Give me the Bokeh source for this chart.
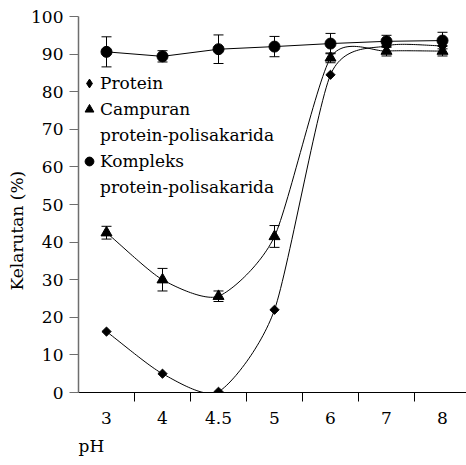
import numpy as np
from bokeh.plotting import figure
from bokeh.models import (Range1d, FixedTicker, Whisker, TeeHead, ColumnDataSource,
                          Legend, LegendItem, Title)
from bokeh.embed import file_html
from bokeh.resources import INLINE

# ---- data ----
ph_labels = ["3", "4", "4.5", "5", "6", "7", "8"]
protein = [16.2, 5.0, 0.2, 22.0, 84.5, 92.2, 92.2]
campuran = [42.5, 30.0, 25.6, 41.5, 89.0, 90.8, 90.8]
campuran_err = [1.7, 3.0, 1.4, 2.9, 1.3, 1.3, 1.3]
kompleks = [90.6, 89.4, 91.3, 92.0, 92.8, 93.4, 93.6]
kompleks_err = [4.0, 1.5, 3.8, 2.7, 2.7, 1.6, 2.2]
y_ticks = [0, 10, 20, 30, 40, 50, 60, 70, 80, 90, 100]

FONT = "DejaVu Serif"
FS = "17px"
xs = np.arange(1, len(ph_labels) + 1, dtype=float)


def smooth(x, y, k=0.7, n=30):
    x = np.asarray(x, float)
    y = np.asarray(y, float)
    m = len(x)
    tx = np.zeros(m)
    ty = np.zeros(m)
    tx[1:-1] = (x[2:] - x[:-2]) / 2
    ty[1:-1] = (y[2:] - y[:-2]) / 2
    tx[0], ty[0] = x[1] - x[0], y[1] - y[0]
    tx[-1], ty[-1] = x[-1] - x[-2], y[-1] - y[-2]
    tx *= k
    ty *= k
    ox, oy = [], []
    for i in range(m - 1):
        t = np.linspace(0, 1, n, endpoint=(i == m - 2))
        h00 = 2 * t**3 - 3 * t**2 + 1
        h10 = t**3 - 2 * t**2 + t
        h01 = -2 * t**3 + 3 * t**2
        h11 = t**3 - t**2
        ox.extend(h00 * x[i] + h10 * tx[i] + h01 * x[i + 1] + h11 * tx[i + 1])
        oy.extend(h00 * y[i] + h10 * ty[i] + h01 * y[i + 1] + h11 * ty[i + 1])
    return ox, oy


W, H = 466, 465
L, T, B = 78, 16, 73
p = figure(width=W, height=H, output_backend="svg", toolbar_location=None,
           x_range=Range1d(0.5, 0.5 + (W - L) / 56.0), y_range=Range1d(0, 100),
           min_border_left=L, min_border_right=0, min_border_top=T, min_border_bottom=B)
p.outline_line_color = None
p.grid.visible = False
p.background_fill_color = "white"
p.border_fill_color = "white"

# x axis
p.xaxis.ticker = FixedTicker(ticks=list(xs), minor_ticks=list(xs[:-1] + 0.5))
p.xaxis.major_label_overrides = {float(v): lab for v, lab in zip(xs, ph_labels)}
p.xaxis.major_tick_line_color = None
p.xaxis.major_tick_out = 9
p.xaxis.major_tick_in = 0
p.xaxis.minor_tick_line_color = "black"
p.xaxis.minor_tick_out = 9
p.xaxis.minor_tick_in = 0
p.xaxis.axis_line_color = "black"
p.xaxis.major_label_standoff = 10

# y axis
p.yaxis.ticker = FixedTicker(ticks=y_ticks)
p.yaxis.major_tick_out = 9
p.yaxis.major_tick_in = 0
p.yaxis.minor_tick_line_color = None
p.yaxis.axis_line_color = "#6e6e6e"
p.yaxis.axis_line_width = 1.5
p.yaxis.major_tick_line_color = "#6e6e6e"
p.yaxis.major_label_standoff = 6

for ax in (p.xaxis, p.yaxis):
    ax.major_label_text_font = FONT
    ax.major_label_text_font_size = FS
    ax.major_label_text_color = "black"

# axis titles
p.add_layout(Title(text="pH", align="left", offset=0, standoff=14, text_font=FONT,
                   text_font_size=FS, text_font_style="normal", text_color="black"),
             "below")
p.add_layout(Title(text="Kelarutan (%)", align="left", offset=102, standoff=4,
                   text_font=FONT, text_font_size=FS,
                   text_font_style="normal", text_color="black"), "left")

# lines
for vals in (protein, campuran):
    lx, ly = smooth(xs, vals)
    p.line(lx, ly, line_color="black", line_width=1)
p.line(xs, kompleks, line_color="black", line_width=1)

# error bars
for vals, err in ((campuran, campuran_err), (kompleks, kompleks_err)):
    src = ColumnDataSource(dict(x=xs, u=np.array(vals) + np.array(err),
                                l=np.array(vals) - np.array(err)))
    p.add_layout(Whisker(base="x", upper="u", lower="l", source=src, line_color="black",
                         line_width=1,
                         upper_head=TeeHead(size=10, line_color="black", line_width=1),
                         lower_head=TeeHead(size=10, line_color="black", line_width=1)))

# markers
p.scatter(xs, protein, marker="square", angle=np.pi / 4, size=6.5, color="black")
p.scatter(xs, campuran, marker="triangle", size=11, color="black")
p.scatter(xs, kompleks, marker="circle", size=11, color="black")

# legend (dedicated renderers, one hidden NaN point each)
nan = [np.nan]
lg_p = p.scatter(x=nan, y=nan, marker="diamond", size=10, color="black")
lg_c = p.scatter(x=nan, y=nan, marker="triangle", size=11, color="black")
lg_k = p.scatter(x=nan, y=nan, marker="circle", size=11, color="black")
lg_b1 = p.scatter(x=nan, y=nan, marker="circle", size=1, fill_alpha=0, line_alpha=0)
lg_b2 = p.scatter(x=nan, y=nan, marker="circle", size=1, fill_alpha=0, line_alpha=0)
legend = Legend(items=[
    LegendItem(label="Protein", renderers=[lg_p]),
    LegendItem(label="Campuran", renderers=[lg_c]),
    LegendItem(label="protein-polisakarida", renderers=[lg_b1]),
    LegendItem(label="Kompleks", renderers=[lg_k]),
    LegendItem(label="protein-polisakarida", renderers=[lg_b2]),
], location=(0, 192))
legend.glyph_width = 22
legend.glyph_height = 26
legend.label_height = 20
legend.spacing = 0
legend.padding = 0
legend.margin = 0
legend.label_standoff = 0
legend.border_line_color = None
legend.background_fill_alpha = 0
legend.label_text_font = FONT
legend.label_text_font_size = FS
legend.label_text_color = "black"
p.add_layout(legend)

open("out.html", "w").write(file_html(p, INLINE))
